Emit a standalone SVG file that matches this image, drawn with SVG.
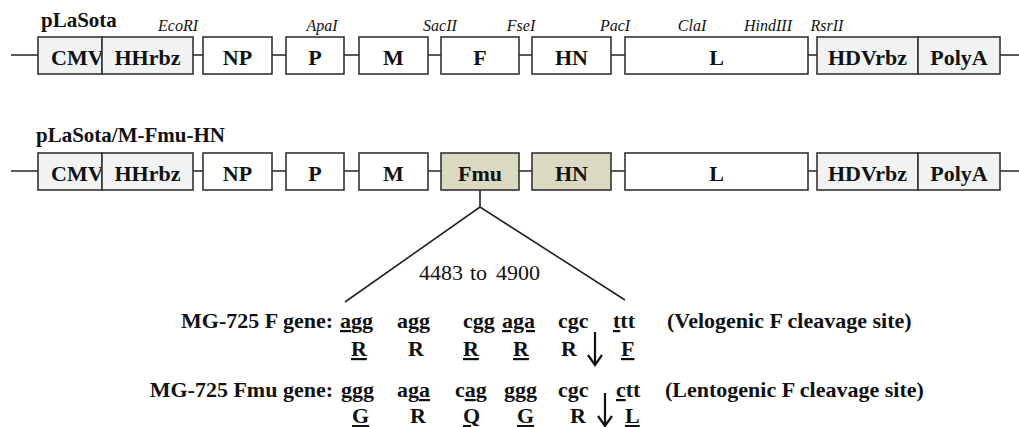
<svg xmlns="http://www.w3.org/2000/svg" width="1019" height="427" viewBox="0 0 1019 427">
<style>
text{font-family:"Liberation Serif","Times New Roman",serif;fill:#111}
.t{font-weight:bold;font-size:21px}
.e{font-style:italic;font-size:16px;text-anchor:middle}
.b{stroke:#333;stroke-width:1.6;fill:#fff}
.g{fill:#f1f2f2}
.m{fill:#dcd9c2}
.l{font-weight:bold;font-size:22px;text-anchor:middle}
.s{font-weight:bold;font-size:22px}
.c{font-weight:bold;font-size:22px}
.u{text-decoration:underline}
.ln{stroke:#222;stroke-width:1.6;fill:none}
.ar{stroke:#111;stroke-width:2.2;fill:none}
</style>
<g id="connectors">
<line class="ln" x1="11" y1="55" x2="1019" y2="55"/>
<line class="ln" x1="11" y1="171" x2="1019" y2="171"/>
<polyline class="ln" points="480,190 480,207"/>
<polyline class="ln" points="345,302 480,207 625,300"/>
</g>
<text class="t" x="41" y="27">pLaSota</text>
<g id="enzymes">
<text class="e" x="178" y="31">EcoRI</text>
<text class="e" x="322" y="31">ApaI</text>
<text class="e" x="440" y="31">SacII</text>
<text class="e" x="521" y="31">FseI</text>
<text class="e" x="615" y="31">PacI</text>
<text class="e" x="692" y="31">ClaI</text>
<text class="e" x="768" y="31">HindIII</text>
<text class="e" x="827" y="31">RsrII</text>
</g>
<g id="row1">
<g id="r1-cmv"><rect class="b g" x="38" y="37" width="64" height="37"/><text class="s" x="51" y="65">CMV</text></g>
<g id="r1-hhrbz"><rect class="b g" x="102" y="37" width="91" height="37"/><text class="l" x="147.5" y="65">HHrbz</text></g>
<g id="r1-np"><rect class="b" x="203" y="37" width="69" height="37"/><text class="l" x="237.5" y="65">NP</text></g>
<g id="r1-p"><rect class="b" x="286" y="37" width="58" height="37"/><text class="l" x="315" y="65">P</text></g>
<g id="r1-m"><rect class="b" x="359" y="37" width="69" height="37"/><text class="l" x="393.5" y="65">M</text></g>
<g id="r1-f"><rect class="b" x="441" y="37" width="78" height="37"/><text class="l" x="480" y="65">F</text></g>
<g id="r1-hn"><rect class="b" x="532" y="37" width="79" height="37"/><text class="l" x="571.5" y="65">HN</text></g>
<g id="r1-l"><rect class="b" x="625" y="37" width="183" height="37"/><text class="l" x="716.5" y="65">L</text></g>
<g id="r1-hdv"><rect class="b g" x="817" y="37" width="101" height="37"/><text class="l" x="867.5" y="65">HDVrbz</text></g>
<g id="r1-polya"><rect class="b g" x="918" y="37" width="82" height="37"/><text class="l" x="959" y="65">PolyA</text></g>
</g>
<text class="t" x="36" y="142">pLaSota/M-Fmu-HN</text>
<g id="row2">
<g id="r2-cmv"><rect class="b g" x="38" y="153" width="64" height="37"/><text class="s" x="51" y="181">CMV</text></g>
<g id="r2-hhrbz"><rect class="b g" x="102" y="153" width="91" height="37"/><text class="l" x="147.5" y="181">HHrbz</text></g>
<g id="r2-np"><rect class="b" x="203" y="153" width="69" height="37"/><text class="l" x="237.5" y="181">NP</text></g>
<g id="r2-p"><rect class="b" x="286" y="153" width="58" height="37"/><text class="l" x="315" y="181">P</text></g>
<g id="r2-m"><rect class="b" x="359" y="153" width="69" height="37"/><text class="l" x="393.5" y="181">M</text></g>
<g id="r2-fmu"><rect class="b m" x="441" y="153" width="78" height="37"/><text class="l" x="480" y="181">Fmu</text></g>
<g id="r2-hn"><rect class="b m" x="532" y="153" width="79" height="37"/><text class="l" x="571.5" y="181">HN</text></g>
<g id="r2-l"><rect class="b" x="625" y="153" width="183" height="37"/><text class="l" x="716.5" y="181">L</text></g>
<g id="r2-hdv"><rect class="b g" x="817" y="153" width="101" height="37"/><text class="l" x="867.5" y="181">HDVrbz</text></g>
<g id="r2-polya"><rect class="b g" x="918" y="153" width="82" height="37"/><text class="l" x="959" y="181">PolyA</text></g>
</g>
<g id="range">
<text x="419" y="280" style="font-size:22px">4483</text>
<text x="470" y="280" style="font-size:22px">to</text>
<text x="496" y="280" style="font-size:22px">4900</text>
</g>
<g id="seq-f">
<text class="s" x="333" y="328" text-anchor="end">MG-725 F gene:</text>
<text class="c" x="340" y="328"><tspan class="u">a</tspan>gg</text>
<text class="c" x="397" y="328">agg</text>
<text class="c" x="463" y="328">cgg</text>
<text class="c" x="502" y="328"><tspan class="u">aga</tspan></text>
<text class="c" x="558" y="328">cgc</text>
<text class="c" x="613" y="328"><tspan class="u">t</tspan>tt</text>
<text class="c" x="351" y="356"><tspan class="u">R</tspan></text>
<text class="c" x="408" y="356">R</text>
<text class="c" x="463" y="356"><tspan class="u">R</tspan></text>
<text class="c" x="513" y="356"><tspan class="u">R</tspan></text>
<text class="c" x="561" y="356">R</text>
<text class="c" x="621" y="356"><tspan class="u">F</tspan></text>
<text class="s" x="667" y="328">(Velogenic F cleavage site)</text>
</g>
<g id="seq-fmu">
<text class="s" x="333" y="397" text-anchor="end">MG-725 Fmu gene:</text>
<text class="c" x="341" y="397"><tspan class="u">ggg</tspan></text>
<text class="c" x="397" y="397">ag<tspan class="u">a</tspan></text>
<text class="c" x="455" y="397">c<tspan class="u">a</tspan>g</text>
<text class="c" x="504" y="397"><tspan class="u">ggg</tspan></text>
<text class="c" x="558" y="397">cgc</text>
<text class="c" x="616" y="397"><tspan class="u">c</tspan>tt</text>
<text class="c" x="352" y="423"><tspan class="u">G</tspan></text>
<text class="c" x="410" y="423">R</text>
<text class="c" x="463" y="423"><tspan class="u">Q</tspan></text>
<text class="c" x="517" y="423"><tspan class="u">G</tspan></text>
<text class="c" x="570" y="423">R</text>
<text class="c" x="625" y="423"><tspan class="u">L</tspan></text>
<text class="s" x="665" y="397">(Lentogenic F cleavage site)</text>
</g>
<g id="cleavage-arrows">
<path class="ar" d="M595,332 V364 M588,355 L595,365 L602,355"/>
<path class="ar" d="M605,393 V426 M598,416 L605,426 L612,416"/>
</g>
</svg>
